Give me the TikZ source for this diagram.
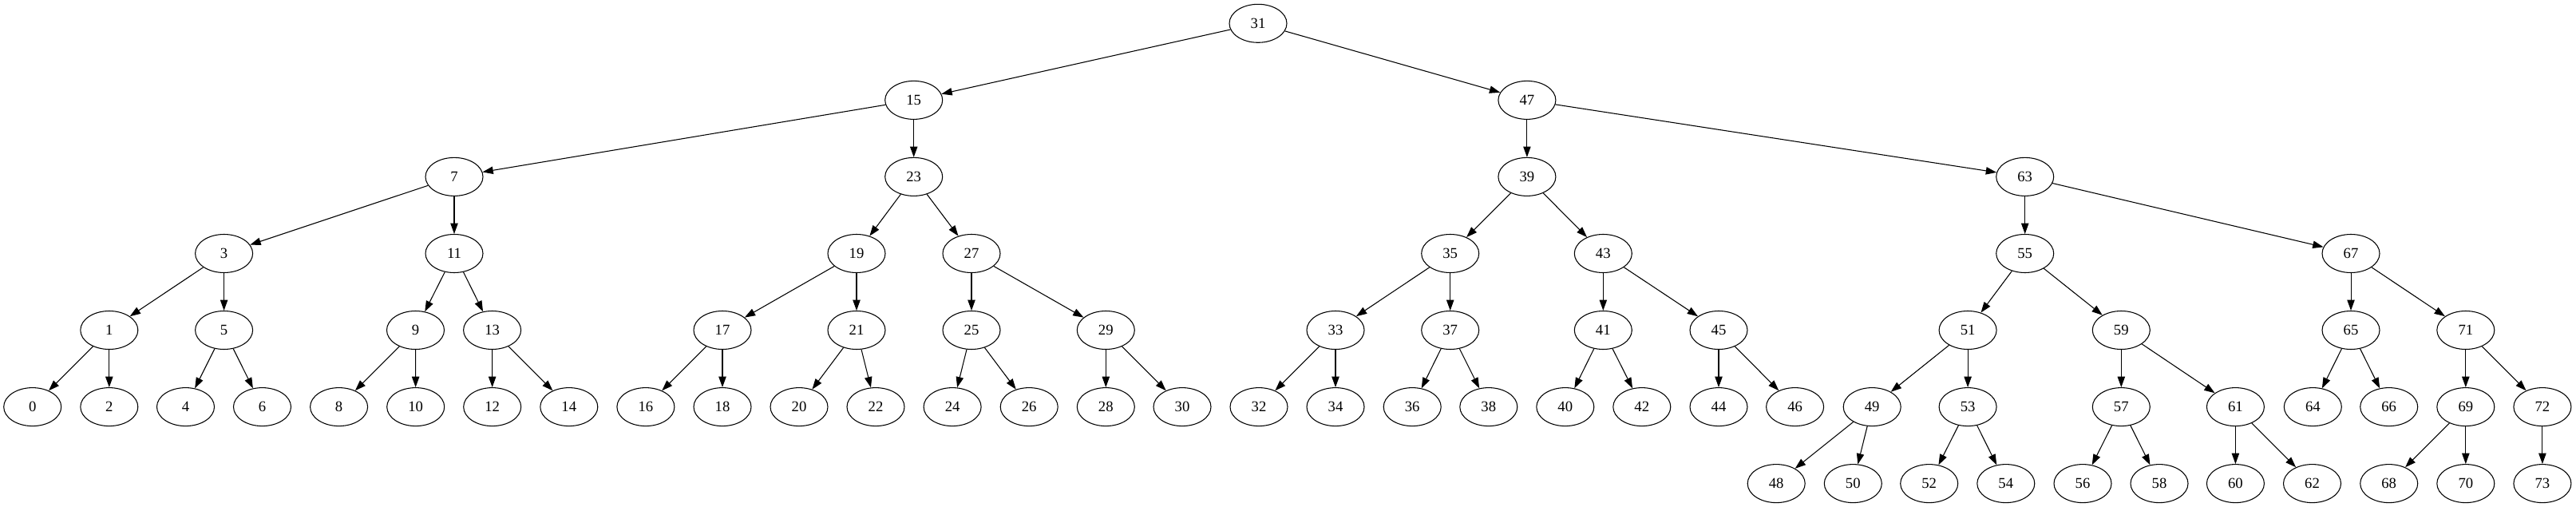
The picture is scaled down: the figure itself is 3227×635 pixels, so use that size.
\documentclass[tikz,border=0pt]{standalone}
\usepackage{fontspec}
\setmainfont{Liberation Serif}
\usetikzlibrary{arrows.meta,shapes.geometric}
\begin{document}
\begin{tikzpicture}[x=0.75pt,y=-0.75pt,
  tn/.style={draw=black,line width=0.8pt,ellipse,minimum width=54pt,minimum height=36pt,inner sep=0pt,font=\fontsize{14pt}{16pt}\selectfont},
  edge/.style={draw=black,line width=0.8pt,-{Triangle[length=10pt,width=7pt]}}]
\useasboundingbox (0,0) rectangle (3227,635);
\foreach \n/\x/\y in {
 31/1576/29.3,
 15/1144.7/125.4, 47/1912.9/125.4,
 7/569/221.4, 23/1144.7/221.4, 39/1912.9/221.4, 63/2536.7/221.4,
 3/280.6/317.5, 11/569/317.5, 19/1073/317.5, 27/1217/317.5, 35/1816.7/317.5, 43/2008.3/317.5, 55/2536.7/317.5, 67/2945/317.5,
 1/136.8/413.5, 5/280.6/413.5, 9/520.5/413.5, 13/616.6/413.5, 17/905/413.5, 21/1073/413.5, 25/1217/413.5, 29/1385.3/413.5, 33/1673/413.5, 37/1816.7/413.5, 41/2008.3/413.5, 45/2153/413.5, 51/2465.1/413.5, 59/2657.3/413.5, 65/2945/413.5, 71/3088.8/413.5,
 0/40.7/509.6, 2/136.8/509.6, 4/232.5/509.6, 6/328.5/509.6, 8/424.6/509.6, 10/520.7/509.6, 12/616.7/509.6, 14/712.8/509.6, 16/808.9/509.6, 18/905/509.6, 20/1001/509.6, 22/1097/509.6, 24/1193.1/509.6, 26/1289.2/509.6, 28/1385.3/509.6, 30/1481/509.6, 32/1577/509.6, 34/1673/509.6, 36/1769.2/509.6, 38/1864.8/509.6, 40/1960.8/509.6, 42/2056.8/509.6, 44/2153/509.6, 46/2248.6/509.6, 49/2345.2/509.6, 53/2465.1/509.6, 57/2657.3/509.6, 61/2800.4/509.6, 64/2897.3/509.6, 66/2992.7/509.6, 69/3088.8/509.6, 72/3184.9/509.6,
 48/2225.2/605.6, 50/2321.3/605.6, 52/2416.7/605.6, 54/2512.8/605.6, 56/2609/605.6, 58/2705/605.6, 60/2800.4/605.6, 62/2896.5/605.6, 68/2992.7/605.6, 70/3088.8/605.6, 73/3184.9/605.6}
  \node[tn] (n\n) at (\x,\y) {\n};
\foreach \a/\b in {
 31/15, 31/47, 15/7, 15/23, 7/3, 7/11, 3/1, 3/5, 1/0, 1/2, 5/4, 5/6,
 11/9, 11/13, 9/8, 9/10, 13/12, 13/14, 23/19, 23/27, 19/17, 19/21,
 17/16, 17/18, 21/20, 21/22, 27/25, 27/29, 25/24, 25/26, 29/28, 29/30,
 47/39, 47/63, 39/35, 39/43, 35/33, 35/37, 33/32, 33/34, 37/36, 37/38,
 43/41, 43/45, 41/40, 41/42, 45/44, 45/46, 63/55, 63/67, 55/51, 55/59,
 51/49, 51/53, 49/48, 49/50, 53/52, 53/54, 59/57, 59/61, 57/56, 57/58,
 61/60, 61/62, 67/65, 67/71, 65/64, 65/66, 71/69, 71/72, 69/68, 69/70, 72/73}
  \draw[edge] (n\a) -- (n\b);
\end{tikzpicture}
\end{document}
